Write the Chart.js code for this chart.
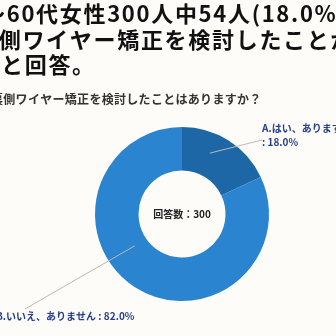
<!DOCTYPE html>
<html>
<head>
<meta charset="utf-8">
<script src="https://cdn.jsdelivr.net/npm/chart.js@4"></script>
<style>
  html, body { margin: 0; padding: 0; background: #fdfcf8; }
  canvas { display: block; }
</style>
</head>
<body>
<canvas id="c" width="336" height="336"></canvas>
<script>
// Survey data
const titleLines = ['～60代女性300人中54人(18.0%)が', '裏側ワイヤー矯正を検討したことがある', 'と回答。'];
const question = '裏側ワイヤー矯正を検討したことはありますか？';
const categories = ['A.はい、あります', 'B.いいえ、ありません'];
const shares = [18.0, 82.0];
const totalRespondents = 300;
const sliceColors = ['#1e67a6', '#2a84cf'];

const JP = '"Noto Sans CJK JP", "Noto Sans", sans-serif';

// Text blocks drawn around the doughnut
const titleLayout = [
  { x: -17, y: 14 },
  { x: -25, y: 40 },
  { x: 1, y: 65 }
];

// Leader lines: inner end is placed on the slice (fraction of its angle span / ring depth)
const leaderLayout = [
  { angleFrac: 0.38, depthFrac: 0.54, to: { x: 262, y: 140 } },
  { angleFrac: 0.58, depthFrac: 0.31, to: { x: 25, y: 309 } }
];

const backdrop = {
  id: 'backdrop',
  beforeDraw(chart) {
    const ctx = chart.ctx;
    ctx.save();
    ctx.fillStyle = '#fdfcf8';
    ctx.fillRect(0, 0, chart.width, chart.height);
    ctx.restore();
  }
};

const annotations = {
  id: 'annotations',
  afterDraw(chart) {
    const ctx = chart.ctx;
    const arcs = chart.getDatasetMeta(0).data;
    ctx.save();

    // heading
    ctx.fillStyle = '#111';
    ctx.textBaseline = 'middle';
    ctx.textAlign = 'left';
    ctx.font = 'bold 22px ' + JP;
    ctx.letterSpacing = '1.7px';
    titleLines.forEach((line, i) => ctx.fillText(line, titleLayout[i].x, titleLayout[i].y));

    // question
    ctx.fillStyle = '#333';
    ctx.font = 'bold 12px ' + JP;
    ctx.letterSpacing = '0.3px';
    ctx.fillText(question, -9, 99);
    ctx.letterSpacing = '0px';

    // leader lines
    ctx.strokeStyle = '#b9b9b9';
    ctx.lineWidth = 1;
    arcs.forEach((arc, i) => {
      const p = arc.getProps(['x', 'y', 'startAngle', 'endAngle', 'innerRadius', 'outerRadius'], true);
      const L = leaderLayout[i];
      const a = p.startAngle + (p.endAngle - p.startAngle) * L.angleFrac;
      const r = p.innerRadius + (p.outerRadius - p.innerRadius) * L.depthFrac;
      ctx.beginPath();
      ctx.moveTo(p.x + Math.cos(a) * r, p.y + Math.sin(a) * r);
      ctx.lineTo(L.to.x, L.to.y);
      ctx.stroke();
    });

    // slice labels
    ctx.fillStyle = '#24408c';
    ctx.font = 'bold 10px ' + JP;
    ctx.fillText(categories[0], 262, 128);
    ctx.fillText(': ' + shares[0].toFixed(1) + '%', 262, 142);
    ctx.fillText(categories[1] + ' : ' + shares[1].toFixed(1) + '%', -4, 316);

    // center caption
    const c = arcs[0];
    ctx.fillStyle = '#222';
    ctx.textAlign = 'center';
    ctx.font = 'bold 10px ' + JP;
    ctx.fillText('回答数：' + totalRespondents, c.x, c.y);

    ctx.restore();
  }
};

new Chart(document.getElementById('c'), {
  type: 'doughnut',
  data: {
    labels: categories,
    datasets: [{
      data: shares,
      backgroundColor: sliceColors,
      borderWidth: 0
    }]
  },
  options: {
    responsive: false,
    animation: false,
    cutout: '50%',
    layout: { padding: { left: 95, right: 67, top: 127, bottom: 35 } },
    plugins: {
      legend: { display: false },
      tooltip: { enabled: false },
      title: { display: false }
    }
  },
  plugins: [backdrop, annotations]
});
</script>
</body>
</html>
